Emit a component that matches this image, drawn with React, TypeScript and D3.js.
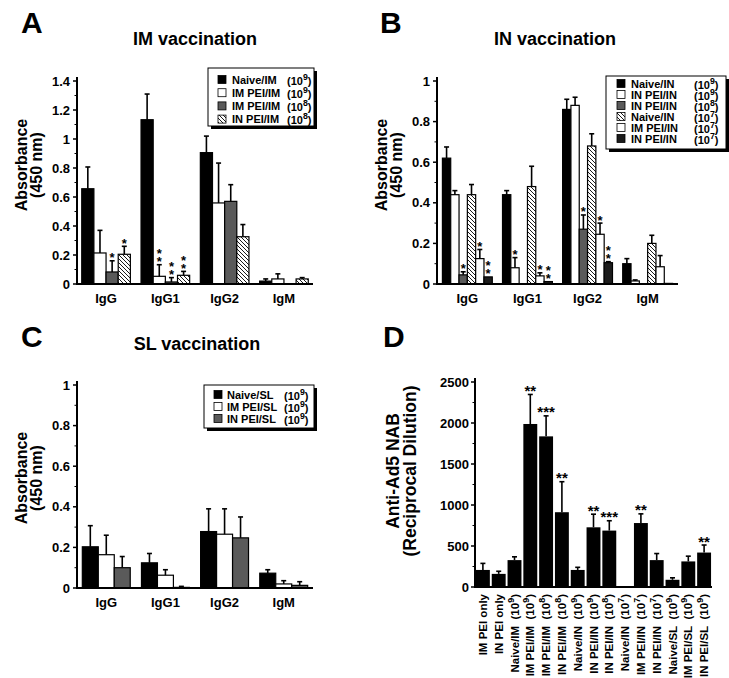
import React from "react";
import * as d3 from "d3";

const isotypes = ["IgG", "IgG1", "IgG2", "IgM"];

// Panel A: IM vaccination
const imNames = ["Naive/IM", "IM PEI/IM", "IM PEI/IM", "IN PEI/IM"];
const imDoses = ["9", "9", "8", "8"];
const imValues = [
  [0.657, 1.133, 0.906, 0.02],
  [0.214, 0.053, 0.559, 0.035],
  [0.083, 0.014, 0.57, 0],
  [0.205, 0.06, 0.326, 0.035],
];
const imErrors = [
  [0.15, 0.177, 0.114, 0.015],
  [0.156, 0.08, 0.275, 0.035],
  [0.077, 0.03, 0.115, 0],
  [0.055, 0.027, 0.084, 0.009],
];
const imStars = [
  ["", "", "", ""],
  ["", "**", "", ""],
  ["*", "**", "", ""],
  ["*", "**", "", ""],
];
const imFills = ["#000", "#fff", "#5a5a5a", "hatch"];

// Panel B: IN vaccination
const inNames = ["Naive/IN", "IN PEI/IN", "IN PEI/IN", "Naive/IN", "IM PEI/IN", "IN PEI/IN"];
const inDoses = ["9", "9", "8", "7", "7", "7"];
const inValues = [
  [0.62, 0.44, 0.86, 0.1],
  [0.44, 0.08, 0.88, 0.015],
  [0.045, 0, 0.27, 0],
  [0.44, 0.48, 0.68, 0.2],
  [0.125, 0.04, 0.245, 0.085],
  [0.035, 0.012, 0.105, 0.003],
];
const inErrors = [
  [0.055, 0.02, 0.05, 0.025],
  [0.02, 0.05, 0.04, 0.005],
  [0.015, 0, 0.07, 0],
  [0.05, 0.1, 0.06, 0.04],
  [0.045, 0.015, 0.055, 0.055],
  [0, 0, 0.005, 0],
];
const inStars = [
  ["", "", "", ""],
  ["", "*", "", ""],
  ["*", "", "*", ""],
  ["", "", "", ""],
  ["*", "*", "*", ""],
  ["**", "**", "**", ""],
];
const inFills = ["#000", "#fff", "#5a5a5a", "hatch", "#fff", "#1c1c1c"];

// Panel C: SL vaccination
const slNames = ["Naive/SL", "IM PEI/SL", "IN PEI/SL"];
const slDoses = ["9", "9", "9"];
const slValues = [
  [0.203, 0.124, 0.278, 0.073],
  [0.164, 0.063, 0.265, 0.02],
  [0.1, 0.003, 0.247, 0.013],
];
const slErrors = [
  [0.104, 0.046, 0.112, 0.017],
  [0.096, 0.027, 0.125, 0.016],
  [0.055, 0.005, 0.103, 0.018],
];
const slStars = [
  ["", "", "", ""],
  ["", "", "", ""],
  ["", "", "", ""],
];
const slFills = ["#000", "#fff", "#5a5a5a"];

// Panel D: Anti-Ad5 NAB
const nabNames = [
  "IM PEI only", "IN PEI only", "Naive/IM", "IM PEI/IM", "IM PEI/IM", "IN PEI/IM",
  "Naive/IN", "IN PEI/IN", "IN PEI/IN", "Naive/IN", "IM PEI/IN", "IN PEI/IN",
  "Naive/SL", "IM PEI/SL", "IN PEI/SL",
];
const nabDoses = ["", "", "9", "9", "8", "8", "9", "9", "8", "7", "7", "7", "9", "9", "9"];
const nabValues = [208, 160, 328, 1988, 1837, 912, 208, 728, 688, 12, 780, 328, 88, 312, 420];
const nabErrors = [80, 32, 40, 360, 250, 372, 32, 160, 120, 0, 112, 80, 24, 64, 92];
const nabStars = ["", "", "", "**", "***", "**", "", "**", "***", "", "**", "", "", "", "**"];
const nabTicks = [0, 500, 1000, 1500, 2000, 2500];

const FONT = "'Liberation Sans', Arial, Helvetica, sans-serif";

function Dose({ x, y, exp, fs }: { x: number; y: number; exp: string; fs: number }) {
  return (
    <text x={x} y={y} fontSize={fs} fontWeight="bold">
      (10
      <tspan dy={-fs * 0.45} fontSize={fs * 0.8}>{exp}</tspan>
      <tspan dy={fs * 0.45} fontSize={fs}>)</tspan>
    </text>
  );
}

function fillOf(f: string) {
  return f === "hatch" ? "url(#hatch)" : f;
}

type Cfg = {
  letter: string; letterX: number; letterY: number;
  title: string; titleX: number; titleY: number;
  xRange: [number, number]; padIn: number; padOut: number;
  yBase: number; yTop: number; yMax: number; step: number;
  names: string[]; doses: string[]; values: number[][]; errors: number[][]; stars: string[][]; fills: string[];
  lx: number; ly: number; lw: number; lh: number; rowY0: number; rowStep: number;
  swX: number; txtX: number; doseX: number; lfs: number;
  yTitleX1: number; yTitleX2: number; yTitleY: number;
};

function GroupedPanel({ c }: { c: Cfg }) {
  const x = d3.scaleBand().domain(isotypes).range(c.xRange).paddingInner(c.padIn).paddingOuter(c.padOut);
  const xs = d3.scaleBand<number>().domain(d3.range(c.values.length)).range([0, x.bandwidth()]);
  const y = d3.scaleLinear().domain([0, c.yMax]).range([c.yBase, c.yTop]);
  const major = d3.range(0, c.yMax + 1e-9, c.step);
  const minor = d3.range(c.step / 2, c.yMax, c.step);
  const fmt = (v: number) => String(Math.round(v * 10) / 10);
  return (
    <g>
      <text x={c.letterX} y={c.letterY} fontSize={30} fontWeight="bold">{c.letter}</text>
      <text x={c.titleX} y={c.titleY} fontSize={18} fontWeight="bold" textAnchor="middle">{c.title}</text>
      <text transform={`translate(${c.yTitleX1},${c.yTitleY}) rotate(-90)`} fontSize={16} fontWeight="bold" textAnchor="middle">Absorbance</text>
      <text transform={`translate(${c.yTitleX2},${c.yTitleY}) rotate(-90)`} fontSize={16} fontWeight="bold" textAnchor="middle">(450 nm)</text>
      {c.values.map((row, si) =>
        row.map((v, gi) => {
          const bx = (x(isotypes[gi]) as number) + (xs(si) as number);
          const bw = xs.bandwidth();
          const cx = bx + bw / 2;
          const e = c.errors[si][gi];
          const top = y(v + e);
          const st = c.stars[si][gi];
          const n = st.length;
          return (
            <g key={`${si}-${gi}`}>
              {v > 0 && (
                <rect x={bx} y={y(v)} width={bw} height={c.yBase - y(v)} fill={fillOf(c.fills[si])} stroke="#000" strokeWidth={1.2} />
              )}
              {e > 0 && (
                <g stroke="#000" strokeWidth={1.6}>
                  <line x1={cx} x2={cx} y1={y(v)} y2={top} />
                  <line x1={cx - 2.5} x2={cx + 2.5} y1={top} y2={top} />
                </g>
              )}
              {n > 0 && (
                <text x={cx} y={top + 1.5 - (n - 1) * 8} fontSize={13} fontWeight="bold" textAnchor="middle">
                  {st.split("").map((s, k) => (
                    <tspan key={k} x={cx} dy={k === 0 ? 0 : 8}>*</tspan>
                  ))}
                </text>
              )}
            </g>
          );
        })
      )}
      <line x1={c.xRange[0]} x2={c.xRange[0]} y1={c.yBase + 1} y2={c.yTop - 4} stroke="#000" strokeWidth={2} />
      <line x1={c.xRange[0] - 1} x2={c.xRange[1]} y1={c.yBase} y2={c.yBase} stroke="#000" strokeWidth={2} />
      {major.map((t) => (
        <g key={t}>
          <line x1={c.xRange[0] - 4} x2={c.xRange[0]} y1={y(t)} y2={y(t)} stroke="#000" strokeWidth={1.5} />
          <text x={c.xRange[0] - 7} y={y(t) + 4.5} fontSize={13} fontWeight="bold" textAnchor="end">{fmt(t)}</text>
        </g>
      ))}
      {minor.map((t) => (
        <line key={t} x1={c.xRange[0] - 2.5} x2={c.xRange[0]} y1={y(t)} y2={y(t)} stroke="#000" strokeWidth={1} />
      ))}
      {isotypes.map((g) => (
        <text key={g} x={(x(g) as number) + x.bandwidth() / 2} y={c.yBase + 19} fontSize={13} fontWeight="bold" textAnchor="middle">{g}</text>
      ))}
      <rect x={c.lx + 3} y={c.ly + 3} width={c.lw} height={c.lh} fill="#000" />
      <rect x={c.lx} y={c.ly} width={c.lw} height={c.lh} fill="#fff" stroke="#000" strokeWidth={1} />
      {c.names.map((n, i) => {
        const cy = c.rowY0 + i * c.rowStep;
        return (
          <g key={i}>
            <rect x={c.swX} y={cy - 4} width={8} height={8} fill={fillOf(c.fills[i])} stroke="#000" strokeWidth={0.8} />
            <text x={c.txtX} y={cy + 4} fontSize={c.lfs} fontWeight="bold">{n}</text>
            <Dose x={c.doseX} y={cy + 5} exp={c.doses[i]} fs={c.lfs} />
          </g>
        );
      })}
    </g>
  );
}

const cfgA: Cfg = {
  letter: "A", letterX: 21, letterY: 33, title: "IM vaccination", titleX: 195, titleY: 45,
  xRange: [77, 313], padIn: 0.18, padOut: 0.08, yBase: 284, yTop: 81, yMax: 1.4, step: 0.2,
  names: imNames, doses: imDoses, values: imValues, errors: imErrors, stars: imStars, fills: imFills,
  lx: 208, ly: 68, lw: 106, lh: 58, rowY0: 79.5, rowStep: 13.2, swX: 218, txtX: 232, doseX: 287, lfs: 11,
  yTitleX1: 27, yTitleX2: 42, yTitleY: 165,
};
const cfgB: Cfg = {
  letter: "B", letterX: 380, letterY: 33, title: "IN vaccination", titleX: 555, titleY: 45,
  xRange: [437, 678], padIn: 0.17, padOut: 0.09, yBase: 284, yTop: 81, yMax: 1, step: 0.2,
  names: inNames, doses: inDoses, values: inValues, errors: inErrors, stars: inStars, fills: inFills,
  lx: 606, ly: 76, lw: 120, lh: 73, rowY0: 83.5, rowStep: 11, swX: 617, txtX: 631, doseX: 694, lfs: 11,
  yTitleX1: 387, yTitleX2: 402, yTitleY: 165,
};
const cfgC: Cfg = {
  letter: "C", letterX: 21, letterY: 347, title: "SL vaccination", titleX: 197, titleY: 350,
  xRange: [77, 313], padIn: 0.19, padOut: 0.09, yBase: 588, yTop: 385, yMax: 1, step: 0.2,
  names: slNames, doses: slDoses, values: slValues, errors: slErrors, stars: slStars, fills: slFills,
  lx: 204, ly: 385, lw: 110, lh: 43, rowY0: 394.5, rowStep: 12, swX: 214, txtX: 227, doseX: 284, lfs: 11,
  yTitleX1: 27, yTitleX2: 42, yTitleY: 478,
};

function NabPanel() {
  const x0 = 475, x1 = 712, yBase = 587, yTop = 382;
  const x = d3.scaleBand<number>().domain(d3.range(nabValues.length)).range([x0, x1]).paddingInner(0.12).paddingOuter(0.06);
  const y = d3.scaleLinear().domain([0, 2500]).range([yBase, yTop]);
  const minor = d3.range(250, 2500, 500);
  return (
    <g>
      <text x={383} y={347} fontSize={30} fontWeight="bold">D</text>
      <text transform={`translate(399,471) rotate(-90)`} fontSize={17.5} fontWeight="bold" textAnchor="middle">Anti-Ad5 NAB</text>
      <text transform={`translate(416,471) rotate(-90)`} fontSize={17.5} fontWeight="bold" textAnchor="middle">(Reciprocal Dilution)</text>
      {nabValues.map((v, i) => {
        const bx = x(i) as number;
        const bw = x.bandwidth();
        const cx = bx + bw / 2;
        const e = nabErrors[i];
        const top = y(v + e);
        return (
          <g key={i}>
            <rect x={bx} y={y(v)} width={bw} height={yBase - y(v)} fill="#000" />
            {e > 0 && (
              <g stroke="#000" strokeWidth={1.6}>
                <line x1={cx} x2={cx} y1={y(v)} y2={top} />
                <line x1={cx - 2.5} x2={cx + 2.5} y1={top} y2={top} />
              </g>
            )}
            {nabStars[i] && (
              <text x={cx} y={top + 1.5} fontSize={15} fontWeight="bold" textAnchor="middle">{nabStars[i]}</text>
            )}
            <text transform={`translate(${cx + 4},${yBase + 7}) rotate(-90)`} fontSize={11.5} fontWeight="bold" textAnchor="end">
              {nabNames[i]}
              {nabDoses[i] && (
                <>
                  {"\u00a0\u00a0(10"}
                  <tspan dy={-5} fontSize={9}>{nabDoses[i]}</tspan>
                  <tspan dy={5} fontSize={11.5}>)</tspan>
                </>
              )}
            </text>
          </g>
        );
      })}
      <line x1={x0} x2={x0} y1={yBase + 1} y2={yTop - 4} stroke="#000" strokeWidth={2} />
      <line x1={x0 - 1} x2={x1} y1={yBase} y2={yBase} stroke="#000" strokeWidth={2} />
      {nabTicks.map((t) => (
        <g key={t}>
          <line x1={x0 - 4} x2={x0} y1={y(t)} y2={y(t)} stroke="#000" strokeWidth={1.5} />
          <text x={x0 - 6} y={y(t) + 4.5} fontSize={13} fontWeight="bold" textAnchor="end">{t}</text>
        </g>
      ))}
      {minor.map((t) => (
        <line key={t} x1={x0 - 2.5} x2={x0} y1={y(t)} y2={y(t)} stroke="#000" strokeWidth={1} />
      ))}
    </g>
  );
}

export default function App() {
  return (
    <svg width={729} height={678} style={{ position: "absolute", left: 0, top: 0, background: "#fff" }} fontFamily={FONT}>
      <defs>
        <pattern id="hatch" patternUnits="userSpaceOnUse" width={4} height={4}>
          <rect width={4} height={4} fill="#fff" />
          <path d="M-1,-1 L5,5 M-1,3 L1,5 M3,-1 L5,1" stroke="#000" strokeWidth={0.9} />
        </pattern>
      </defs>
      <rect width={729} height={678} fill="#fff" />
      <GroupedPanel c={cfgA} />
      <GroupedPanel c={cfgB} />
      <GroupedPanel c={cfgC} />
      <NabPanel />
    </svg>
  );
}
